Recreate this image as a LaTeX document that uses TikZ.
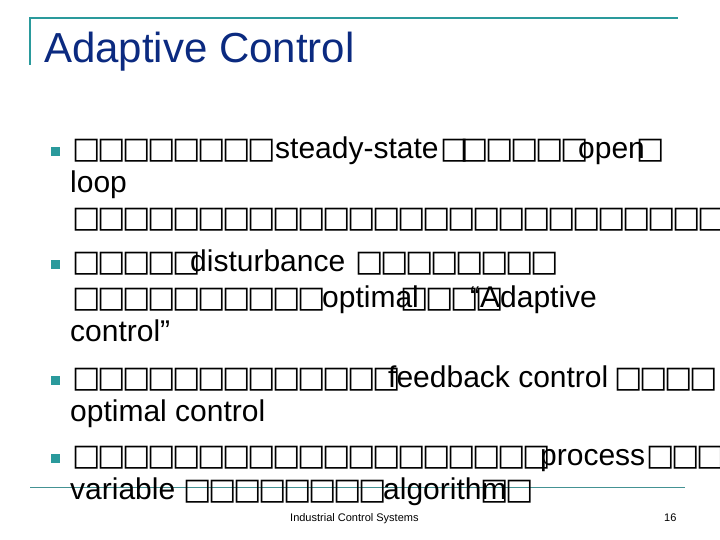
\documentclass[tikz,border=0pt]{standalone}
\usepackage{fontspec}
\setmainfont{Liberation Sans}
\newfontfamily\boxfont{DejaVu Sans}
\definecolor{teal1}{HTML}{2A9A9C}
\definecolor{navy}{HTML}{0B2A80}
\newcommand{\Bx}[1]{{\boxfont\fontsize{30}{30}\selectfont\foreach \i in {1,...,#1}{\makebox[25pt][l]{\char"25A1}}}}
\begin{document}
\begin{tikzpicture}[x=1pt,y=-1pt,
  txt/.style={anchor=base west,inner sep=0pt,font=\fontsize{30}{32}\selectfont},
  bul/.style={fill=teal1,minimum size=9pt,inner sep=0pt},
  rule/.style={teal1,line width=2pt}]
\useasboundingbox (0,0) rectangle (720,540);
\coordinate (tl) at (30,65); \coordinate (tt) at (30,18); \coordinate (tr) at (678,18);
\draw[rule] (tl) -- (tt) -- (tr);
\coordinate (bl) at (30,487); \coordinate (br) at (685,487);
\draw[teal1!70!gray,line width=1pt] (bl) -- (br);
\node[txt,font=\fontsize{42}{44}\selectfont,text=navy] (title) at (44,63) {Adaptive Control};
\foreach \y/\n in {152/b1,264/b2,380/b3,458/b4}{\node[bul] (\n) at (55,\y) {};}
% line 1
\node[txt] (a1) at (72,159) {\Bx{8}};
\node[txt] (a2) at (275,159) {steady-state};
\node[txt] (a3) at (440,159) {\Bx{1}};
\node[txt] (a4) at (460,159) {\Bx{5}};
\node[txt] (a5) at (578,159) {open};
\node[txt] (a6) at (636,159) {\Bx{1}};
\node[txt] (a7) at (70,193) {loop};
\node[txt] (a8) at (72,227) {\Bx{26}};
% line 2
\node[txt] (c1) at (72,271) {\Bx{5}};
\node[txt] (c2) at (190,271) {disturbance};
\node[txt] (c3) at (355,271) {\Bx{8}};
\node[txt] (c4) at (72,307) {\Bx{10}};
\node[txt] (c5) at (322,307) {optimal};
\node[txt] (c6) at (400,307) {\Bx{4}};
\node[txt] (c7) at (470,307) {“Adaptive};
\node[txt] (c8) at (70,341) {control”};
% line 3
\node[txt] (d1) at (72,387) {\Bx{13}};
\node[txt] (d2) at (388,387) {feedback control};
\node[txt] (d3) at (614,387) {\Bx{4}};
\node[txt] (d4) at (70,421) {optimal control};
% line 4
\node[txt] (e1) at (72,465) {\Bx{19}};
\node[txt] (e2) at (540,465) {process};
\node[txt] (e3) at (646,465) {\Bx{3}};
\node[txt] (e4) at (70,499) {variable};
\node[txt] (e5) at (183,499) {\Bx{8}};
\node[txt] (e6) at (383,499) {algorithm};
\node[txt] (e7) at (480,499) {\Bx{2}};
% footer
\node[txt,font=\fontsize{11}{12}\selectfont] (f1) at (290,521) {Industrial Control Systems};
\node[txt,font=\fontsize{11}{12}\selectfont] (f2) at (664,521) {16};
\end{tikzpicture}
\end{document}
